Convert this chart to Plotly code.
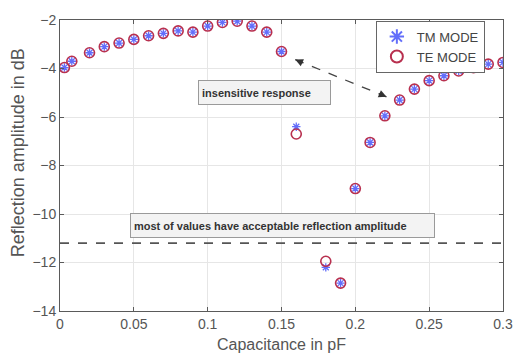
import plotly.graph_objects as go

# Capacitance sweep (pF)
capacitance = [0.003, 0.008, 0.02, 0.03, 0.04, 0.05, 0.06, 0.07, 0.08, 0.09,
               0.10, 0.11, 0.12, 0.13, 0.14, 0.15, 0.16, 0.18, 0.19, 0.20,
               0.21, 0.22, 0.23, 0.24, 0.25, 0.26, 0.27, 0.28, 0.29, 0.30]

# Reflection amplitude (dB) for each polarisation
te_mode = [-3.96, -3.7, -3.35, -3.1, -2.95, -2.8, -2.65, -2.55, -2.45, -2.5,
           -2.25, -2.1, -2.05, -2.25, -2.5, -3.3, -6.7, -11.95, -12.85, -8.95,
           -7.05, -5.95, -5.3, -4.85, -4.5, -4.3, -4.1, -3.97, -3.82, -3.75]
tm_mode = [-3.96, -3.7, -3.35, -3.1, -2.95, -2.8, -2.65, -2.55, -2.45, -2.5,
           -2.25, -2.1, -2.05, -2.25, -2.5, -3.3, -6.4, -12.2, -12.85, -8.95,
           -7.05, -5.95, -5.3, -4.85, -4.5, -4.3, -4.1, -3.97, -3.82, -3.75]

threshold_db = -11.2
arrow_start = (0.1593, -3.63)
arrow_end = (0.2211, -5.17)

x_ticks = [0, 0.05, 0.1, 0.15, 0.2, 0.25, 0.3]
x_tick_text = ["0", "0.05", "0.1", "0.15", "0.2", "0.25", "0.3"]
y_ticks = [-14, -12, -10, -8, -6, -4, -2]

font_family = "Liberation Sans, Arial, sans-serif"
text_grey = "#555555"

fig = go.Figure()

fig.add_trace(go.Scatter(
    x=capacitance, y=tm_mode, mode="markers", name="TM MODE",
    marker=dict(symbol="asterisk-open", size=7,
                line=dict(color="#3a5fa8", width=1.3)),
))
fig.add_trace(go.Scatter(
    x=capacitance, y=te_mode, mode="markers", name="TE MODE",
    marker=dict(symbol="circle-open", size=10, color="#b8304f",
                line=dict(color="#b8304f", width=1.6)),
))

# Acceptable reflection threshold
fig.add_shape(type="line", xref="paper", yref="y", x0=0, x1=1,
              y0=threshold_db, y1=threshold_db,
              line=dict(color="#555555", width=1.6, dash="dash"))

# Dashed double-headed arrow between the transition points
fig.add_shape(type="line", xref="x", yref="y",
              x0=arrow_start[0], y0=arrow_start[1],
              x1=arrow_end[0], y1=arrow_end[1],
              line=dict(color="#444444", width=1.3, dash="dash"))
for (px, py), (ax, ay) in [(arrow_end, (-9, -4)), (arrow_start, (9, 4))]:
    fig.add_annotation(x=px, y=py, xref="x", yref="y", ax=ax, ay=ay,
                       showarrow=True, arrowhead=2, arrowsize=1.2,
                       arrowwidth=1.3, arrowcolor="#333333", text="")

# Text boxes
box_style = dict(showarrow=False, align="left", borderpad=3,
                 font=dict(family=font_family, size=11, color="#333333"),
                 bgcolor="#f3f3f3", bordercolor="#9a9a9a", borderwidth=1)
fig.add_annotation(x=0.1384, y=-5.0, xref="x", yref="y",
                   text="<b>insensitive response</b>",
                   width=125, height=17, **box_style)
fig.add_annotation(x=0.151, y=-10.46, xref="x", yref="y",
                   text="<b>most of values have acceptable reflection amplitude</b>",
                   width=297, height=17, **box_style)

# Vertical axis title
fig.add_annotation(xref="paper", yref="paper", x=-0.095, y=0.545,
                   xanchor="center", yanchor="middle", textangle=-90,
                   text="Reflection amplitude in dB", showarrow=False,
                   font=dict(family=font_family, size=18, color=text_grey))

axis_common = dict(
    showline=True, linecolor="#5a5a5a", linewidth=1, mirror="ticks",
    ticks="inside", ticklen=4, tickcolor="#5a5a5a",
    showgrid=True, gridcolor="#e6e6e6", gridwidth=1, zeroline=False,
    tickfont=dict(family=font_family, size=14, color=text_grey),
)

fig.update_xaxes(range=[0, 0.3], tickvals=x_ticks, ticktext=x_tick_text,
                 title=dict(text="Capacitance in pF", standoff=8,
                            font=dict(family=font_family, size=16, color=text_grey)),
                 **axis_common)
fig.update_yaxes(range=[-14, -2], tickvals=y_ticks, **axis_common)

fig.update_layout(
    width=525, height=363,
    margin=dict(l=60, r=13, t=14, b=52),
    plot_bgcolor="white", paper_bgcolor="white",
    font=dict(family=font_family),
    showlegend=True,
    legend=dict(x=0.713, y=0.998, xanchor="left", yanchor="top",
                bgcolor="white", bordercolor="#666666", borderwidth=1,
                font=dict(family=font_family, size=13, color="#444444"),
                itemsizing="constant", tracegroupgap=0),
)

fig.write_html("out.html")
